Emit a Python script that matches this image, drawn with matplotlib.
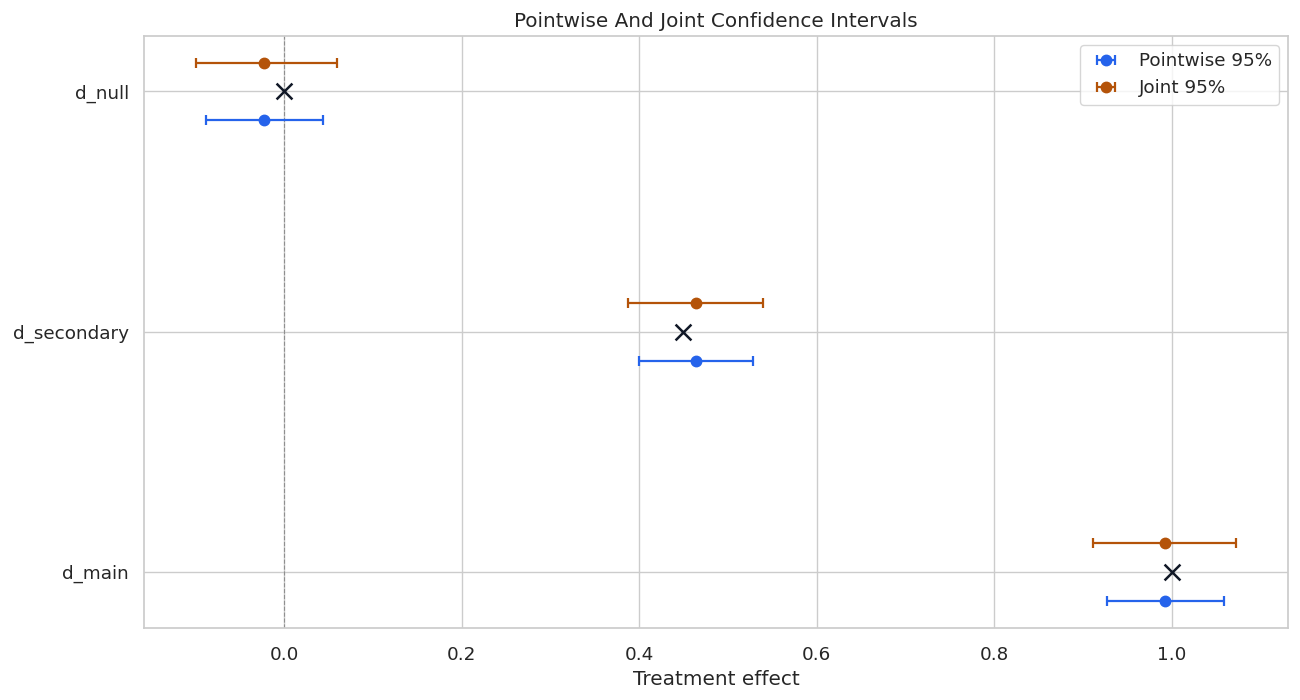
import numpy as np
import matplotlib
matplotlib.use("Agg")
import matplotlib.pyplot as plt
import seaborn as sns

# treatment names, bottom to top
treatments = ["d_main", "d_secondary", "d_null"]
true_effects = [1.0, 0.45, 0.0]
estimates = [0.993, 0.4645, -0.0225]
pointwise_lower = [0.927, 0.400, -0.088]
pointwise_upper = [1.059, 0.528, 0.044]
joint_lower = [0.912, 0.387, -0.099]
joint_upper = [1.073, 0.540, 0.059]

sns.set_theme(style="whitegrid", font_scale=1.2)
plt.rcParams['font.family'] = ['DejaVu Sans']

blue = "#2563eb"
orange = "#b45309"

fig, ax = plt.subplots(figsize=(13, 7), dpi=100)
fig.subplots_adjust(left=0.111, right=0.991, top=0.949, bottom=0.103)

y = np.arange(len(treatments))
est = np.array(estimates)
off = 0.12

pw_err = [est - np.array(pointwise_lower), np.array(pointwise_upper) - est]
jt_err = [est - np.array(joint_lower), np.array(joint_upper) - est]

ax.axvline(0, color="gray", linestyle="--", linewidth=0.8, alpha=0.8, zorder=1)
ax.errorbar(est, y - off, xerr=pw_err, fmt="o", color=blue, capsize=3.5,
            markersize=7.5, elinewidth=1.6, capthick=1.6, label="Pointwise 95%", zorder=3)
ax.errorbar(est, y + off, xerr=jt_err, fmt="o", color=orange, capsize=3.5,
            markersize=7.5, elinewidth=1.6, capthick=1.6, label="Joint 95%", zorder=3)
ax.scatter(true_effects, y, marker="x", color="#111827", s=130, linewidths=1.8, zorder=4)

ax.set_yticks(y)
ax.set_yticklabels(treatments)
ax.tick_params(axis="y", pad=5)
ax.tick_params(axis="x", pad=7)
ax.set_xlabel("Treatment effect")
ax.set_title("Pointwise And Joint Confidence Intervals")
ax.legend(loc="upper right")

fig.savefig("out.png", dpi=100)
